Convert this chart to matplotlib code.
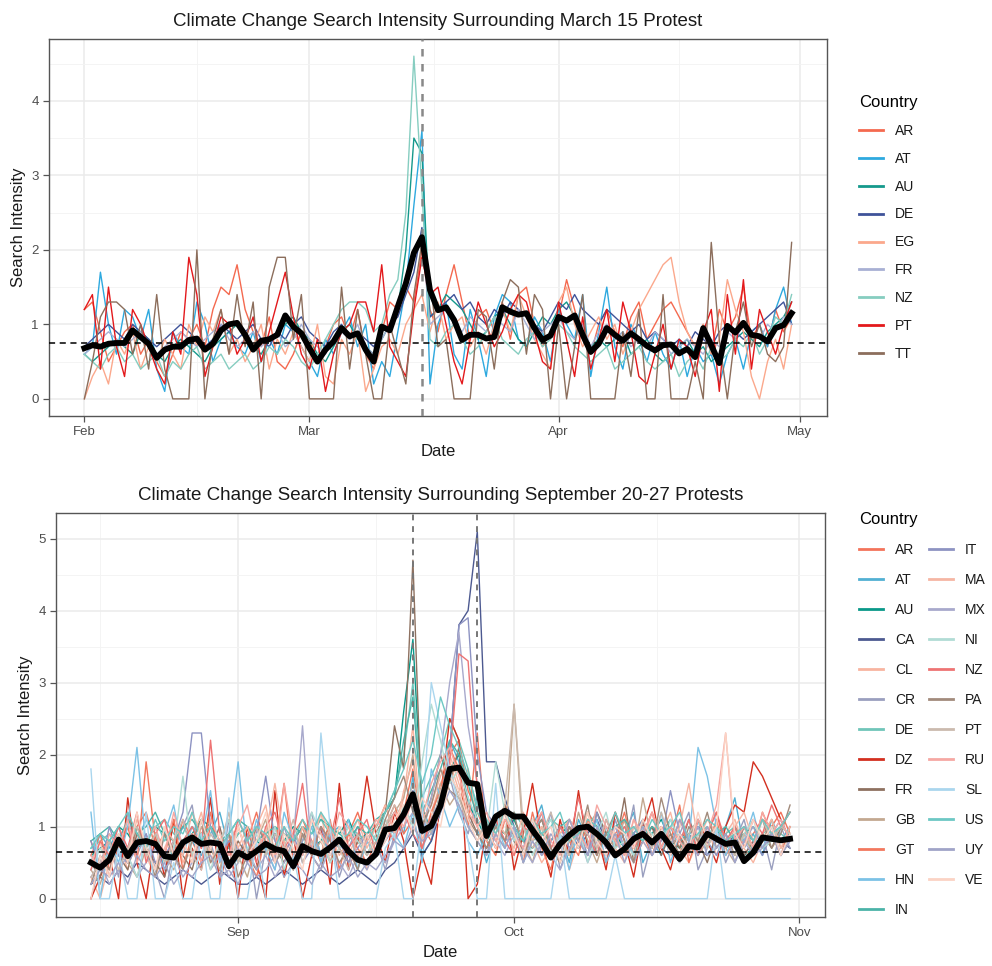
import numpy as np
import pandas as pd
import matplotlib
matplotlib.use("Agg")
import matplotlib.pyplot as plt
import matplotlib.dates as mdates
from matplotlib.lines import Line2D

plt.rcParams['font.family'] = ['Liberation Sans', 'DejaVu Sans']

# ---- March 15 protest panel (values x10, daily from 2019-02-01) ----
start_mar = "2019-02-01"
countries_mar = ["AR", "AT", "AU", "DE", "EG", "FR", "NZ", "PT", "TT"]
colors_mar = ["#F4694F", "#2EA9DF", "#15998C", "#3F5399", "#FBA88C",
              "#A8B0D4", "#86CDC0", "#E3191C", "#8C6E5C"]

mar_AR = [12, 13, 9, 5, 7, 9, 10, 6, 8, 5,
          3, 6, 9, 8, 10, 7, 12, 15, 14, 18,
          12, 9, 7, 11, 5, 4, 6, 9, 8, 5,
          7, 10, 11, 8, 12, 6, 4, 9, 13, 12,
          15, 13, 20, 12, 9, 14, 18, 13, 8, 11,
          12, 9, 13, 8, 14, 15, 10, 7, 9, 11,
          16, 12, 8, 6, 10, 12, 9, 7, 11, 13,
          8, 10, 12, 13, 11, 9, 7, 10, 6, 12,
          9, 11, 15, 8, 10, 7, 12, 9, 11]
mar_AT = [6, 7, 17, 10, 6, 12, 11, 8, 12, 4,
          1, 9, 7, 6, 13, 10, 5, 8, 9, 7,
          6, 9, 5, 8, 6, 10, 9, 7, 5, 3,
          8, 6, 9, 11, 7, 10, 2, 5, 3, 9,
          15, 26, 36, 2, 10, 13, 6, 4, 12, 8,
          3, 11, 14, 13, 8, 7, 11, 9, 5, 12,
          10, 8, 14, 3, 9, 15, 7, 4, 10, 8,
          5, 9, 6, 4, 8, 3, 7, 5, 6, 2,
          6, 8, 4, 9, 10, 7, 12, 15, 10]
mar_AU = [6, 5, 6, 7, 8, 7, 6, 9, 8, 6,
          5, 7, 8, 7, 6, 5, 7, 8, 9, 10,
          8, 7, 6, 8, 9, 10, 11, 9, 8, 6,
          5, 7, 9, 10, 8, 7, 6, 8, 10, 12,
          20, 35, 33, 11, 12, 14, 13, 12, 10, 8,
          9, 11, 12, 10, 8, 7, 9, 11, 10, 12,
          13, 11, 9, 7, 8, 7, 8, 9, 6, 7,
          8, 6, 5, 6, 7, 8, 6, 7, 5, 6,
          7, 8, 9, 8, 7, 9, 10, 11, 13]
mar_DE = [7, 8, 9, 10, 9, 8, 10, 9, 8, 7,
          8, 9, 10, 9, 8, 7, 8, 10, 9, 8,
          9, 10, 8, 7, 9, 8, 10, 11, 9, 8,
          7, 9, 10, 8, 9, 8, 7, 9, 10, 11,
          14, 17, 23, 11, 12, 13, 14, 12, 13, 11,
          10, 12, 11, 13, 12, 11, 10, 9, 11, 13,
          12, 14, 12, 11, 10, 12, 11, 10, 9, 10,
          8, 9, 8, 7, 8, 7, 9, 8, 7, 9,
          10, 9, 8, 9, 10, 11, 12, 13, 10]
mar_EG = [0, 3, 5, 2, 8, 6, 9, 4, 7, 5,
          8, 6, 4, 10, 7, 11, 9, 12, 6, 8,
          5, 7, 10, 4, 8, 6, 9, 7, 5, 10,
          3, 2, 8, 6, 9, 1, 4, 7, 8, 6,
          10, 12, 14, 9, 13, 8, 10, 11, 7, 9,
          6, 10, 12, 9, 14, 11, 8, 6, 4, 13,
          15, 10, 7, 9, 11, 8, 10, 6, 9, 12,
          14, 16, 18, 19, 13, 9, 7, 10, 6, 8,
          16, 12, 9, 3, 0, 5, 8, 4, 10]
mar_FR = [6, 7, 8, 9, 8, 7, 8, 9, 7, 6,
          7, 8, 9, 8, 7, 8, 9, 10, 8, 7,
          8, 9, 7, 8, 9, 7, 8, 10, 8, 7,
          6, 8, 9, 8, 10, 7, 6, 8, 10, 12,
          16, 19, 22, 10, 11, 12, 10, 9, 11, 10,
          9, 11, 10, 9, 12, 10, 8, 9, 10, 11,
          9, 8, 10, 7, 9, 10, 8, 9, 7, 8,
          7, 9, 8, 6, 7, 8, 7, 6, 8, 7,
          9, 8, 10, 9, 8, 10, 9, 11, 10]
mar_NZ = [6, 5, 4, 6, 7, 5, 6, 4, 5, 6,
          3, 5, 4, 6, 7, 4, 5, 6, 4, 5,
          6, 4, 5, 7, 6, 8, 7, 5, 4, 6,
          8, 10, 12, 13, 13, 12, 9, 10, 14, 16,
          25, 46, 28, 8, 7, 9, 10, 8, 6, 7,
          9, 11, 8, 7, 6, 8, 9, 7, 8, 10,
          9, 7, 6, 5, 6, 7, 4, 5, 6, 7,
          5, 4, 5, 6, 3, 5, 6, 4, 7, 5,
          6, 8, 7, 9, 6, 8, 11, 10, 14]
mar_PT = [12, 14, 4, 15, 7, 3, 12, 10, 7, 4,
          2, 9, 6, 19, 14, 3, 7, 11, 10, 6,
          8, 11, 5, 9, 13, 17, 11, 6, 4, 8,
          1, 6, 9, 10, 13, 13, 9, 18, 7, 5,
          3, 12, 19, 14, 15, 10, 5, 2, 8, 13,
          10, 7, 9, 12, 14, 13, 9, 5, 4, 13,
          8, 3, 11, 4, 8, 12, 5, 13, 9, 3,
          2, 6, 10, 4, 8, 7, 3, 9, 12, 1,
          14, 6, 16, 4, 12, 9, 6, 10, 13]
mar_TT = [0, 5, 11, 13, 13, 12, 6, 10, 4, 14,
          4, 0, 0, 0, 20, 0, 8, 12, 6, 14,
          7, 13, 0, 15, 19, 19, 8, 14, 0, 0,
          0, 0, 15, 4, 12, 6, 0, 0, 10, 6,
          2, 14, 21, 16, 7, 8, 0, 0, 0, 12,
          11, 4, 13, 16, 15, 6, 14, 12, 0, 10,
          0, 7, 14, 0, 0, 0, 0, 9, 3, 12,
          0, 0, 14, 0, 0, 0, 5, 0, 21, 8,
          0, 9, 13, 7, 10, 6, 5, 7, 21]
mar_mean = [0.68, 0.72, 0.70, 0.74, 0.75, 0.75, 0.92, 0.83, 0.74, 0.55,
            0.66, 0.70, 0.70, 0.79, 0.81, 0.66, 0.74, 0.92, 1.00, 1.02,
            0.86, 0.66, 0.78, 0.80, 0.86, 1.12, 0.97, 0.88, 0.68, 0.50,
            0.66, 0.77, 0.95, 0.84, 0.88, 0.66, 0.50, 0.97, 0.92, 1.24,
            1.55, 1.96, 2.17, 1.46, 1.19, 1.23, 1.06, 0.79, 0.86, 0.86,
            0.81, 0.83, 1.23, 1.17, 1.13, 1.15, 0.95, 0.79, 0.85, 1.10,
            1.05, 1.12, 0.86, 0.63, 0.74, 0.95, 0.86, 0.78, 0.88, 0.80,
            0.71, 0.65, 0.72, 0.73, 0.61, 0.67, 0.56, 0.95, 0.72, 0.48,
            0.98, 0.89, 1.02, 0.86, 0.84, 0.77, 0.95, 0.99, 1.15]
mar_baseline = 0.755
mar_events = ["2019-03-15"]

# ---- September 20-27 protests panel (values x10, daily from 2019-08-16) ----
start_sep = "2019-08-16"
countries_sep = ["AR", "AT", "AU", "CA", "CL", "CR", "DE", "DZ", "FR", "GB", "GT", "HN", "IN",
                 "IT", "MA", "MX", "NI", "NZ", "PA", "PT", "RU", "SL", "US", "UY", "VE"]
colors_sep = ["#F3735B", "#52B0D3", "#0A9889", "#4C5990", "#F8B4A0", "#9A9FBF", "#70C5B9",
              "#D32F1F", "#8E7160", "#C3A890", "#F2785E", "#7CC2E6", "#4BB3A8",
              "#8D93C2", "#F5B6A3", "#A8A9CC", "#B1DCD5", "#EE7373", "#A28B7C",
              "#CBBAAE", "#F6A8A3", "#AAD6EE", "#6DC8C4", "#A0A4C8", "#FBD3C4"]

sep_AR = [8, 4, 6, 9, 5, 10, 12, 7, 9, 6,
          11, 8, 5, 10, 7, 9, 6, 8, 12, 7,
          10, 6, 9, 11, 8, 5, 10, 7, 9, 12,
          8, 10, 13, 9, 12, 18, 10, 8, 14, 20,
          22, 15, 12, 9, 10, 13, 11, 8, 10, 7,
          6, 9, 11, 8, 12, 10, 7, 9, 11, 6,
          8, 10, 9, 7, 11, 8, 10, 9, 12, 7,
          10, 8, 9, 11, 10, 12, 9]
sep_AT = [5, 9, 7, 10, 6, 8, 11, 9, 4, 7,
          10, 8, 6, 9, 12, 7, 5, 8, 10, 6,
          9, 7, 4, 8, 11, 6, 9, 10, 7, 5,
          8, 6, 10, 12, 9, 17, 6, 8, 13, 22,
          19, 14, 10, 5, 9, 12, 8, 6, 10, 13,
          7, 9, 5, 11, 8, 6, 10, 7, 9, 12,
          5, 8, 6, 10, 7, 9, 11, 6, 8, 10,
          14, 7, 9, 6, 11, 8, 10]
sep_AU = [6, 7, 8, 10, 9, 7, 8, 10, 9, 6,
          8, 9, 11, 10, 8, 7, 9, 10, 8, 7,
          9, 8, 10, 9, 7, 8, 10, 9, 11, 8,
          9, 10, 12, 14, 26, 36, 13, 9, 15, 18,
          20, 13, 11, 8, 10, 9, 11, 8, 7, 9,
          8, 10, 9, 7, 11, 10, 8, 9, 7, 8,
          10, 9, 11, 8, 7, 9, 10, 8, 9, 7,
          8, 6, 7, 8, 9, 8, 9]
sep_CA = [2, 3, 2, 4, 3, 5, 4, 3, 2, 3,
          4, 3, 2, 3, 4, 3, 2, 2, 3, 2,
          3, 4, 3, 2, 3, 4, 3, 2, 3, 4,
          3, 2, 4, 5, 7, 9, 6, 8, 12, 20,
          38, 40, 51, 19, 19, 14, 10, 8, 9, 7,
          6, 8, 10, 7, 9, 11, 8, 6, 7, 9,
          8, 10, 7, 6, 8, 9, 7, 6, 8, 7,
          9, 6, 8, 7, 9, 8, 7]
sep_CL = [3, 0, 5, 8, 4, 9, 6, 3, 7, 10,
          5, 8, 12, 6, 4, 9, 7, 5, 10, 13,
          6, 8, 4, 9, 7, 12, 5, 8, 6, 9,
          4, 7, 11, 9, 14, 24, 8, 12, 16, 19,
          15, 18, 10, 7, 9, 12, 6, 10, 8, 5,
          7, 9, 4, 8, 11, 6, 9, 7, 5, 10,
          8, 6, 9, 12, 7, 5, 8, 10, 6, 9,
          11, 7, 5, 8, 10, 6, 9]
sep_CR = [0, 5, 8, 3, 12, 6, 9, 4, 0, 7,
          10, 13, 5, 8, 3, 11, 6, 9, 0, 7,
          4, 10, 6, 8, 12, 5, 9, 3, 7, 10,
          6, 8, 4, 9, 11, 15, 7, 10, 13, 17,
          12, 9, 14, 6, 11, 8, 10, 5, 9, 7,
          12, 4, 8, 10, 6, 9, 5, 11, 7, 13,
          3, 8, 10, 6, 9, 12, 4, 7, 10, 5,
          8, 11, 6, 9, 4, 10, 7]
sep_DE = [7, 8, 9, 7, 10, 9, 8, 10, 11, 9,
          8, 10, 9, 11, 8, 7, 9, 10, 8, 9,
          10, 8, 9, 7, 10, 11, 9, 8, 10, 9,
          8, 10, 12, 15, 20, 30, 14, 17, 20, 25,
          22, 18, 12, 10, 11, 9, 12, 10, 8, 9,
          11, 10, 8, 9, 10, 12, 9, 8, 10, 9,
          11, 8, 9, 10, 8, 7, 9, 10, 8, 9,
          10, 8, 7, 9, 10, 9, 8]
sep_DZ = [0, 3, 6, 0, 14, 5, 0, 9, 3, 11,
          0, 7, 4, 14, 2, 8, 0, 10, 5, 0,
          15, 3, 9, 0, 6, 10, 2, 16, 4, 8,
          17, 9, 5, 12, 8, 0, 6, 2, 14, 25,
          22, 0, 2, 10, 7, 13, 4, 9, 16, 8,
          3, 11, 6, 15, 7, 9, 4, 12, 8, 3,
          10, 14, 7, 4, 9, 6, 11, 8, 5, 10,
          13, 12, 19, 17, 14, 11, 8]
sep_FR = [5, 3, 8, 6, 4, 9, 7, 5, 3, 8,
          6, 4, 9, 7, 10, 5, 8, 6, 4, 9,
          7, 5, 8, 10, 6, 4, 9, 7, 5, 8,
          6, 9, 12, 24, 18, 47, 10, 14, 20, 16,
          21, 12, 9, 7, 10, 13, 8, 6, 9, 11,
          7, 5, 10, 8, 6, 12, 9, 7, 14, 5,
          8, 10, 6, 9, 7, 11, 8, 5, 9, 7,
          10, 6, 8, 9, 7, 10, 12]
sep_GB = [4, 2, 6, 8, 5, 3, 7, 9, 6, 4,
          8, 5, 10, 7, 4, 9, 6, 3, 8, 11,
          5, 7, 4, 9, 6, 8, 5, 10, 7, 4,
          8, 6, 10, 12, 14, 20, 9, 11, 16, 13,
          15, 10, 8, 6, 9, 7, 27, 8, 5, 10,
          7, 9, 6, 12, 8, 5, 9, 7, 11, 6,
          14, 8, 10, 7, 5, 9, 6, 8, 10, 7,
          5, 9, 6, 8, 11, 7, 9]
sep_GT = [6, 9, 4, 7, 10, 5, 19, 8, 6, 11,
          4, 9, 7, 12, 5, 8, 10, 6, 3, 9,
          7, 16, 5, 10, 8, 6, 11, 4, 9, 7,
          5, 8, 10, 13, 9, 11, 7, 12, 15, 21,
          18, 10, 23, 8, 6, 11, 9, 5, 12, 7,
          4, 10, 8, 6, 11, 9, 5, 8, 12, 7,
          9, 6, 10, 8, 13, 5, 9, 7, 11, 6,
          8, 10, 7, 12, 9, 6, 10]
sep_HN = [12, 0, 8, 5, 10, 21, 7, 4, 9, 13,
          6, 10, 8, 15, 5, 9, 19, 6, 11, 7,
          4, 12, 8, 6, 10, 5, 9, 7, 11, 4,
          8, 6, 10, 9, 7, 12, 5, 18, 14, 10,
          13, 8, 6, 9, 11, 7, 10, 5, 8, 12,
          6, 9, 4, 10, 7, 11, 5, 8, 9, 6,
          10, 7, 12, 5, 9, 8, 21, 17, 10, 6,
          9, 8, 12, 7, 10, 6, 9]
sep_IN = [8, 9, 10, 8, 11, 9, 10, 12, 9, 8,
          10, 11, 9, 10, 8, 9, 11, 10, 8, 9,
          10, 9, 8, 10, 9, 11, 10, 9, 8, 10,
          9, 11, 12, 14, 22, 28, 12, 15, 18, 22,
          20, 16, 11, 9, 10, 12, 9, 8, 10, 9,
          8, 10, 11, 9, 10, 8, 9, 10, 11, 9,
          8, 10, 9, 11, 8, 9, 10, 8, 9, 10,
          8, 9, 10, 8, 9, 10, 9]
sep_IT = [8, 4, 10, 6, 5, 7, 9, 5, 6, 8,
          12, 23, 23, 10, 6, 8, 7, 5, 9, 17,
          8, 6, 9, 5, 7, 10, 6, 8, 5, 7,
          9, 6, 8, 10, 12, 15, 9, 11, 14, 20,
          38, 39, 20, 12, 10, 8, 9, 7, 11, 6,
          8, 10, 7, 9, 6, 12, 8, 10, 7, 9,
          11, 6, 8, 15, 9, 7, 10, 8, 6, 9,
          7, 10, 8, 6, 9, 11, 8]
sep_MA = [5, 8, 3, 9, 6, 11, 7, 4, 10, 8,
          6, 12, 9, 5, 8, 11, 7, 10, 6, 9,
          16, 8, 5, 10, 7, 12, 9, 6, 8, 11,
          7, 10, 13, 9, 15, 19, 11, 13, 17, 20,
          16, 12, 10, 8, 11, 9, 7, 12, 8, 10,
          6, 9, 11, 8, 12, 7, 10, 9, 6, 11,
          8, 12, 9, 7, 10, 16, 8, 11, 9, 7,
          10, 12, 8, 9, 11, 7, 10]
sep_MX = [3, 5, 2, 4, 6, 3, 5, 7, 4, 6,
          3, 5, 8, 4, 6, 3, 5, 7, 4, 6,
          3, 5, 8, 24, 6, 4, 7, 5, 3, 6,
          4, 7, 5, 8, 10, 12, 9, 14, 20, 30,
          37, 24, 16, 10, 8, 6, 9, 7, 5, 8,
          6, 4, 7, 9, 5, 8, 6, 10, 7, 5,
          8, 6, 9, 7, 5, 8, 10, 6, 7, 9,
          5, 8, 6, 7, 9, 6, 8]
sep_NI = [4, 7, 5, 9, 6, 3, 8, 10, 5, 7,
          17, 6, 9, 4, 8, 11, 5, 7, 9, 6,
          10, 4, 8, 6, 12, 9, 5, 7, 10, 8,
          6, 9, 11, 8, 13, 10, 19, 27, 22, 16,
          18, 14, 11, 9, 19, 12, 8, 10, 6, 9,
          11, 7, 8, 10, 5, 9, 12, 7, 8, 6,
          10, 9, 7, 11, 8, 6, 9, 7, 10, 8,
          6, 9, 11, 7, 8, 10, 9]
sep_NZ = [4, 8, 6, 10, 7, 12, 5, 9, 11, 6,
          8, 10, 7, 22, 9, 6, 11, 8, 5, 10,
          12, 7, 9, 16, 6, 10, 8, 14, 7, 9,
          11, 6, 10, 8, 12, 9, 7, 11, 13, 19,
          34, 33, 15, 9, 11, 8, 6, 10, 9, 12,
          7, 10, 8, 14, 9, 6, 11, 8, 10, 7,
          9, 12, 7, 10, 8, 11, 6, 9, 12, 8,
          10, 7, 11, 9, 13, 10, 12]
sep_PA = [2, 6, 4, 8, 5, 10, 7, 3, 9, 6,
          4, 8, 11, 5, 7, 9, 3, 6, 10, 8,
          5, 7, 4, 9, 6, 10, 8, 5, 7, 4,
          9, 6, 11, 14, 17, 12, 10, 13, 18, 15,
          14, 11, 9, 7, 10, 8, 12, 6, 9, 11,
          7, 5, 10, 8, 13, 6, 9, 12, 8, 5,
          11, 7, 14, 9, 6, 10, 8, 12, 7, 9,
          6, 10, 8, 11, 7, 9, 13]
sep_PT = [3, 5, 8, 4, 7, 10, 6, 9, 5, 8,
          11, 6, 4, 9, 7, 12, 5, 8, 10, 6,
          9, 7, 11, 5, 8, 6, 10, 7, 4, 9,
          6, 8, 10, 13, 11, 16, 12, 9, 15, 18,
          14, 10, 8, 11, 9, 13, 27, 10, 7, 9,
          12, 8, 6, 10, 9, 7, 11, 8, 6, 10,
          9, 7, 12, 8, 6, 9, 11, 7, 10, 8,
          6, 9, 7, 11, 8, 10, 9]
sep_RU = [6, 4, 9, 7, 11, 5, 8, 10, 6, 12,
          7, 9, 5, 11, 8, 6, 10, 13, 7, 9,
          5, 16, 8, 6, 11, 9, 7, 12, 10, 6,
          8, 11, 9, 12, 10, 14, 11, 16, 19, 21,
          17, 13, 10, 12, 8, 11, 9, 7, 10, 12,
          8, 6, 11, 9, 7, 13, 10, 8, 6, 11,
          9, 12, 7, 10, 8, 6, 11, 9, 13, 23,
          8, 10, 7, 12, 9, 11, 8]
sep_SL = [18, 0, 0, 7, 0, 0, 12, 0, 0, 5,
          0, 0, 9, 0, 0, 14, 0, 0, 8, 0,
          0, 0, 6, 0, 0, 23, 10, 0, 0, 0,
          0, 0, 7, 9, 0, 0, 11, 30, 24, 18,
          13, 8, 0, 0, 16, 0, 0, 0, 0, 0,
          0, 9, 0, 0, 0, 0, 0, 6, 0, 0,
          0, 0, 0, 0, 0, 0, 0, 0, 10, 0,
          0, 0, 0, 0, 0, 0, 0]
sep_US = [7, 9, 8, 10, 12, 9, 7, 11, 8, 10,
          9, 12, 8, 10, 7, 9, 11, 8, 10, 9,
          7, 10, 8, 11, 9, 12, 10, 8, 9, 11,
          10, 8, 12, 15, 18, 22, 16, 20, 28, 24,
          21, 17, 13, 11, 9, 12, 10, 8, 11, 9,
          10, 12, 8, 9, 11, 10, 8, 12, 9, 10,
          8, 11, 9, 10, 12, 8, 9, 11, 10, 8,
          9, 10, 8, 11, 9, 10, 12]
sep_UY = [2, 4, 3, 5, 2, 6, 4, 3, 5, 2,
          4, 3, 5, 6, 3, 4, 2, 5, 3, 4,
          6, 3, 5, 4, 2, 5, 3, 4, 6, 3,
          5, 4, 6, 8, 7, 10, 8, 9, 12, 15,
          13, 10, 8, 6, 9, 7, 10, 5, 8, 6,
          9, 7, 11, 8, 6, 10, 7, 9, 5, 8,
          10, 6, 9, 7, 11, 8, 6, 10, 7, 9,
          5, 8, 10, 7, 9, 6, 8]
sep_VE = [0, 6, 3, 9, 5, 12, 7, 4, 10, 6,
          8, 5, 11, 7, 9, 4, 10, 6, 8, 12,
          5, 9, 7, 4, 11, 8, 6, 10, 7, 5,
          9, 6, 8, 11, 13, 9, 14, 12, 10, 17,
          15, 11, 8, 10, 7, 12, 9, 6, 11, 8,
          10, 5, 9, 7, 12, 8, 6, 10, 9, 7,
          11, 8, 10, 6, 9, 7, 12, 8, 10, 23,
          9, 7, 11, 8, 10, 6, 9]
sep_mean = [0.50, 0.43, 0.54, 0.82, 0.59, 0.78, 0.80, 0.76, 0.59, 0.57,
            0.78, 0.85, 0.76, 0.78, 0.76, 0.45, 0.64, 0.57, 0.66, 0.76,
            0.69, 0.66, 0.45, 0.73, 0.66, 0.62, 0.71, 0.82, 0.66, 0.54,
            0.50, 0.62, 0.96, 0.98, 1.17, 1.45, 0.94, 1.01, 1.29, 1.80,
            1.82, 1.61, 1.59, 0.87, 1.14, 1.22, 1.14, 1.14, 0.95, 0.78,
            0.57, 0.76, 0.88, 0.98, 1.00, 0.90, 0.78, 0.60, 0.69, 0.83,
            0.90, 0.78, 0.90, 0.73, 0.55, 0.73, 0.71, 0.90, 0.83, 0.76,
            0.78, 0.52, 0.64, 0.85, 0.83, 0.81, 0.83]
sep_baseline = 0.645
sep_events = ["2019-09-20", "2019-09-27"]

series_mar = [mar_AR, mar_AT, mar_AU, mar_DE, mar_EG, mar_FR, mar_NZ, mar_PT, mar_TT]
series_sep = [sep_AR, sep_AT, sep_AU, sep_CA, sep_CL, sep_CR, sep_DE, sep_DZ, sep_FR,
              sep_GB, sep_GT, sep_HN, sep_IN, sep_IT, sep_MA, sep_MX, sep_NI, sep_NZ,
              sep_PA, sep_PT, sep_RU, sep_SL, sep_US, sep_UY, sep_VE]

fig = plt.figure(figsize=(9.92, 9.66), dpi=100)
W, H = 992, 966


def panel(rect, title, start, names, cols, series, mean, baseline, events, ticks,
          vcolor, vlw, leg_xy, ncol, lspace):
    ax = fig.add_axes(rect)
    for name, col, s in zip(names, cols, series):
        d = pd.date_range(start, periods=len(s))
        ax.plot(d, np.array(s) / 10.0, color=col, lw=1.0, label=name, zorder=2)
    d = pd.date_range(start, periods=len(mean))
    ax.plot(d, mean, color="black", lw=4.2, zorder=4, solid_joinstyle="round")
    ax.axhline(baseline, color="black", ls=(0, (4, 3)), lw=1.1, zorder=5)
    for e in events:
        ax.axvline(pd.Timestamp(e), color=vcolor, ls=(0, (3, 3)), lw=vlw, zorder=3)

    # ggplot-style 5% expansion
    x0, x1 = mdates.date2num(d[0]), mdates.date2num(d[-1])
    pad = (x1 - x0) * 0.05
    xlo, xhi = x0 - pad, x1 + pad
    allv = np.concatenate([np.array(s) / 10.0 for s in series] + [np.array(mean)])
    lo, hi = 0.0, allv.max()
    ylo, yhi = lo - (hi - lo) * 0.05, hi + (hi - lo) * 0.05

    tk = [mdates.date2num(pd.Timestamp(t)) for t in ticks]
    ax.set_xticks(tk)
    ax.set_xticklabels([pd.Timestamp(t).strftime("%b") for t in ticks])
    ext = [tk[0] - (tk[1] - tk[0])] + tk + [tk[-1] + (tk[-1] - tk[-2])]
    mids = [(a + b) / 2 for a, b in zip(ext[:-1], ext[1:])]
    ax.set_xticks([m for m in mids if xlo < m < xhi], minor=True)
    yt = np.arange(0, int(hi) + 1)
    ax.set_yticks(yt)
    ax.set_yticklabels([str(v) for v in yt])
    ax.set_yticks([m for m in np.arange(0.5, hi + 0.5, 1.0) if m < yhi], minor=True)
    ax.set_xlim(xlo, xhi)
    ax.set_ylim(ylo, yhi)

    ax.grid(which="major", color="#EBEBEB", lw=1.1, zorder=0)
    ax.grid(which="minor", color="#F3F3F3", lw=0.6, zorder=0)
    ax.set_axisbelow(True)
    for sp in ax.spines.values():
        sp.set_color("#555555")
        sp.set_linewidth(1.0)
    ax.tick_params(which="major", length=4, color="#555555", labelsize=9.5,
                   labelcolor="#4D4D4D", width=0.9)
    ax.tick_params(which="minor", length=0)
    ax.set_title(title, fontsize=13.5, color="#1A1A1A", pad=9)
    ax.set_xlabel("Date", fontsize=12, color="#1A1A1A", labelpad=4)
    ax.set_ylabel("Search Intensity", fontsize=12, color="#1A1A1A", labelpad=4)

    handles = [Line2D([], [], color=c, lw=2.0) for c in cols]
    leg = ax.legend(handles, names, title="Country", loc="upper left",
                    bbox_to_anchor=(leg_xy[0] / W, 1 - leg_xy[1] / H),
                    bbox_transform=fig.transFigure, frameon=False, ncol=ncol,
                    fontsize=10, title_fontsize=12, handlelength=1.7,
                    handletextpad=0.9, labelspacing=lspace, columnspacing=1.0,
                    borderpad=0, alignment="left")
    for t in leg.get_texts():
        t.set_color("#1A1A1A")
    return ax


panel([49 / W, 1 - 416 / H, (827 - 49) / W, (416 - 39) / H],
      "Climate Change Search Intensity Surrounding March 15 Protest",
      start_mar, countries_mar, colors_mar, series_mar, mar_mean, mar_baseline,
      mar_events, ["2019-02-01", "2019-03-01", "2019-04-01", "2019-05-01"],
      "#888888", 1.8, (852, 88), 1, 1.0)

panel([56 / W, 1 - 917 / H, (825 - 56) / W, (917 - 513) / H],
      "Climate Change Search Intensity Surrounding September 20-27 Protests",
      start_sep, countries_sep, colors_sep, series_sep, sep_mean, sep_baseline,
      sep_events, ["2019-09-01", "2019-10-01", "2019-11-01"],
      "#777777", 1.4, (852, 505), 2, 1.15)

fig.savefig("out.png", dpi=100)
